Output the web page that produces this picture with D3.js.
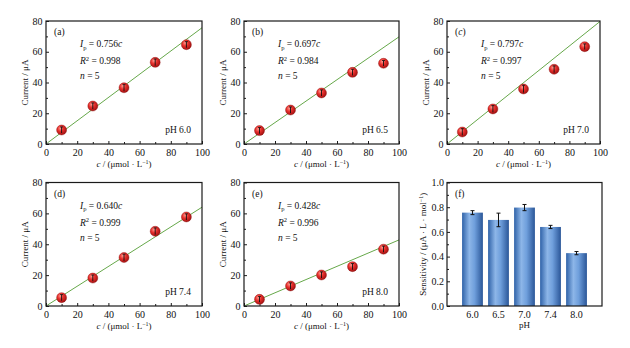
<!DOCTYPE html>
<html>
<head>
<meta charset="utf-8">
<script src="https://cdn.jsdelivr.net/npm/d3@7"></script>
<style>
  body { margin: 0; background: #fff; }
  svg text { font-family: "Liberation Serif", "DejaVu Serif", serif; fill: #111; }
</style>
</head>
<body>
<div id="chart"></div>
<script>
// concentration series (µmol/L) shared by the five calibration plots
let concentrations = [10, 30, 50, 70, 90];

let current_ph60 = [9.1, 24.7, 36.6, 53.1, 64.6];
let current_ph65 = [8.7, 22.1, 33.2, 46.6, 52.5];
let current_ph70 = [7.8, 22.8, 35.8, 48.6, 63.3];
let current_ph74 = [5.4, 18.1, 31.4, 48.4, 57.7];
let current_ph80 = [4.3, 13.0, 20.1, 25.5, 36.8];

let error_ph60 = [2.0, 2.0, 2.2, 2.2, 2.0];
let error_ph65 = [2.0, 2.0, 2.0, 2.0, 1.8];
let error_ph70 = [2.2, 2.2, 2.4, 2.2, 1.8];
let error_ph74 = [2.0, 2.0, 2.2, 2.2, 2.0];
let error_ph80 = [1.8, 2.0, 2.0, 2.0, 2.0];

let ph_labels = ["6.0", "6.5", "7.0", "7.4", "8.0"];
let slopes = [0.756, 0.697, 0.797, 0.640, 0.428];
let r_squared = ["0.998", "0.984", "0.997", "0.999", "0.996"];
let sample_n = [5, 5, 5, 5, 5];
let sensitivity_err = [0.016, 0.055, 0.025, 0.013, 0.013];

let x_ticks = [0, 20, 40, 60, 80, 100];
let y_ticks = [0, 20, 40, 60, 80];
let sens_ticks = [0, 0.2, 0.4, 0.6, 0.8, 1.0];

let width = 630;
let height = 348;

let svg = d3.select("#chart")
    .append("svg")
    .attr("width", width)
    .attr("height", height);

let defs = svg.append("defs");

let ball = defs.append("radialGradient")
    .attr("id", "ball")
    .attr("cx", "40%").attr("cy", "38%").attr("r", "65%")
    .attr("fx", "38%").attr("fy", "32%");
ball.append("stop").attr("offset", "0%").attr("stop-color", "#ff9a90");
ball.append("stop").attr("offset", "45%").attr("stop-color", "#e8302c");
ball.append("stop").attr("offset", "100%").attr("stop-color", "#9e1010");

let barGrad = defs.append("linearGradient")
    .attr("id", "bar")
    .attr("x1", "0%").attr("x2", "100%").attr("y1", "0%").attr("y2", "0%");
barGrad.append("stop").attr("offset", "0%").attr("stop-color", "#2f62a8");
barGrad.append("stop").attr("offset", "35%").attr("stop-color", "#8db6e8");
barGrad.append("stop").attr("offset", "60%").attr("stop-color", "#6f9fdc");
barGrad.append("stop").attr("offset", "100%").attr("stop-color", "#2a5698");

let panels = [
    { tag: "a", values: current_ph60, errors: error_ph60, x0: 46, x1: 202, y0: 21, y1: 144 },
    { tag: "b", values: current_ph65, errors: error_ph65, x0: 244, x1: 399, y0: 21, y1: 144 },
    { tag: "c", values: current_ph70, errors: error_ph70, x0: 447, x1: 600, y0: 21, y1: 144 },
    { tag: "d", values: current_ph74, errors: error_ph74, x0: 46, x1: 202, y0: 182.5, y1: 306 },
    { tag: "e", values: current_ph80, errors: error_ph80, x0: 244, x1: 399, y0: 182.5, y1: 306 }
];

function frame(g, p) {
    g.append("rect")
        .attr("x", p.x0)
        .attr("y", p.y0)
        .attr("width", p.x1 - p.x0)
        .attr("height", p.y1 - p.y0)
        .attr("fill", "none")
        .attr("stroke", "#1a1a1a")
        .attr("stroke-width", 1.2);
}

function style_axis(a) {
    a.select(".domain").remove();
    a.selectAll("line").attr("stroke", "#1a1a1a");
    a.selectAll("text")
        .style("font-size", "10px")
        .style("font-family", "Liberation Serif, serif")
        .attr("fill", "#111");
}

function draw_calibration(p, i) {
    let g = svg.append("g");

    let xScale = d3.scaleLinear().domain([0, 100]).range([p.x0, p.x1]);
    let yScale = d3.scaleLinear().domain([0, 80]).range([p.y1, p.y0]);

    // minor ticks every 10
    let xMinor = g.append("g")
        .attr("transform", "translate(0," + p.y1 + ")")
        .call(d3.axisBottom(xScale).tickValues([10, 30, 50, 70, 90]).tickSize(-2).tickFormat(""));
    style_axis(xMinor);
    let yMinor = g.append("g")
        .attr("transform", "translate(" + p.x0 + ",0)")
        .call(d3.axisLeft(yScale).tickValues([10, 30, 50, 70]).tickSize(-2).tickFormat(""));
    style_axis(yMinor);

    let xAxis = g.append("g")
        .attr("transform", "translate(0," + p.y1 + ")")
        .call(d3.axisBottom(xScale).tickValues(x_ticks).tickSizeInner(-3).tickSizeOuter(0).tickPadding(4.5));
    style_axis(xAxis);

    let yAxis = g.append("g")
        .attr("transform", "translate(" + p.x0 + ",0)")
        .call(d3.axisLeft(yScale).tickValues(y_ticks).tickSizeInner(-3).tickSizeOuter(0).tickPadding(3.5));
    style_axis(yAxis);

    // least squares line through origin
    let fit = d3.line()
        .x(function(d) { return xScale(d); })
        .y(function(d) { return yScale(slopes[i] * d); });

    g.append("path")
        .attr("d", fit([0.8, 100]))
        .attr("fill", "none")
        .attr("stroke", "#66a84a")
        .attr("stroke-width", 1);

    let pts = g.selectAll(".pt")
        .data(concentrations.map(function(c, k) { return [c, p.values[k], p.errors[k]]; }))
        .enter()
        .append("g");

    pts.append("circle")
        .attr("cx", function(d) { return xScale(d[0]); })
        .attr("cy", function(d) { return yScale(d[1]); })
        .attr("r", 5)
        .attr("fill", "url(#ball)")
        .attr("stroke", "#8a1010")
        .attr("stroke-width", 0.4);

    pts.append("line")
        .attr("x1", function(d) { return xScale(d[0]); })
        .attr("x2", function(d) { return xScale(d[0]); })
        .attr("y1", function(d) { return yScale(d[1] - d[2]); })
        .attr("y2", function(d) { return yScale(d[1] + d[2]); })
        .attr("stroke", "#111")
        .attr("stroke-width", 0.9);

    pts.append("line")
        .attr("x1", function(d) { return xScale(d[0]) - 1.5; })
        .attr("x2", function(d) { return xScale(d[0]) + 1.5; })
        .attr("y1", function(d) { return yScale(d[1] + d[2]); })
        .attr("y2", function(d) { return yScale(d[1] + d[2]); })
        .attr("stroke", "#111")
        .attr("stroke-width", 0.8);

    frame(g, p);

    // panel tag
    let tag = g.append("text")
        .attr("x", p.x0 + 8)
        .attr("y", p.y0 + 14)
        .style("font-size", "9.5px");
    tag.append("tspan").text("(");
    tag.append("tspan").style("font-style", p.tag === "c" ? "italic" : "normal").text(p.tag);
    tag.append("tspan").text(")");

    // fit annotation
    let ax = p.x0 + 34;
    let t1 = g.append("text").attr("x", ax).attr("y", p.y0 + 26).style("font-size", "9.5px");
    t1.append("tspan").style("font-style", "italic").text("I");
    t1.append("tspan").attr("dy", 2.5).style("font-size", "6.5px").text("p");
    t1.append("tspan").attr("dy", -2.5).text(" = " + slopes[i].toFixed(3));
    t1.append("tspan").style("font-style", "italic").text("c");

    let t2 = g.append("text").attr("x", ax).attr("y", p.y0 + 43).style("font-size", "9.5px");
    t2.append("tspan").style("font-style", "italic").text("R");
    t2.append("tspan").attr("dy", -3.5).style("font-size", "6.5px").text("2");
    t2.append("tspan").attr("dy", 3.5).text(" = " + r_squared[i]);

    let t3 = g.append("text").attr("x", ax).attr("y", p.y0 + 58).style("font-size", "9.5px");
    t3.append("tspan").style("font-style", "italic").text("n");
    t3.append("tspan").text(" = " + sample_n[i]);

    g.append("text")
        .attr("x", p.x1 - 11)
        .attr("y", p.y1 - 11)
        .attr("text-anchor", "end")
        .style("font-size", "9.5px")
        .text("pH " + ph_labels[i]);

    // axis titles
    let xt = g.append("text")
        .attr("x", (p.x0 + p.x1) / 2)
        .attr("y", p.y1 + 23)
        .attr("text-anchor", "middle")
        .style("font-size", "9px");
    xt.append("tspan").style("font-style", "italic").text("c");
    xt.append("tspan").text(" / (\u03bcmol \u00b7 L");
    xt.append("tspan").attr("dy", -3.5).style("font-size", "6px").text("\u22121");
    xt.append("tspan").attr("dy", 3.5).text(")");

    g.append("text")
        .attr("transform", "translate(" + (p.x0 - 21) + "," + ((p.y0 + p.y1) / 2) + ") rotate(-90)")
        .attr("text-anchor", "middle")
        .attr("dy", "0.35em")
        .style("font-size", "9px")
        .text("Current / \u03bcA");
}

panels.forEach(draw_calibration);

// sensitivity bars
let fp = { x0: 447, x1: 602, y0: 182.5, y1: 306 };
let fg = svg.append("g");

let bandScale = d3.scaleBand()
    .domain(ph_labels)
    .range([fp.x0, fp.x1])
    .paddingInner(0.2)
    .paddingOuter(0.58);

let sensScale = d3.scaleLinear().domain([0, 1]).range([fp.y1, fp.y0]);

fg.selectAll(".bar")
    .data(ph_labels.map(function(ph, k) { return [ph, slopes[k], sensitivity_err[k]]; }))
    .enter()
    .append("rect")
    .attr("x", function(d) { return bandScale(d[0]); })
    .attr("y", function(d) { return sensScale(d[1]); })
    .attr("width", bandScale.bandwidth())
    .attr("height", function(d) { return fp.y1 - sensScale(d[1]); })
    .attr("fill", "url(#bar)");

let errG = fg.selectAll(".err")
    .data(ph_labels.map(function(ph, k) { return [ph, slopes[k], sensitivity_err[k]]; }))
    .enter()
    .append("g");

errG.append("line")
    .attr("x1", function(d) { return bandScale(d[0]) + bandScale.bandwidth() / 2; })
    .attr("x2", function(d) { return bandScale(d[0]) + bandScale.bandwidth() / 2; })
    .attr("y1", function(d) { return sensScale(d[1] - d[2]); })
    .attr("y2", function(d) { return sensScale(d[1] + d[2]); })
    .attr("stroke", "#111")
    .attr("stroke-width", 1);

[1, -1].forEach(function(sgn) {
    errG.append("line")
        .attr("x1", function(d) { return bandScale(d[0]) + bandScale.bandwidth() / 2 - 2; })
        .attr("x2", function(d) { return bandScale(d[0]) + bandScale.bandwidth() / 2 + 2; })
        .attr("y1", function(d) { return sensScale(d[1] + sgn * d[2]); })
        .attr("y2", function(d) { return sensScale(d[1] + sgn * d[2]); })
        .attr("stroke", "#111")
        .attr("stroke-width", 1);
});

let fxAxis = fg.append("g")
    .attr("transform", "translate(0," + fp.y1 + ")")
    .call(d3.axisBottom(bandScale).tickSize(0).tickPadding(4.5));
style_axis(fxAxis);

let fyMinor = fg.append("g")
    .attr("transform", "translate(" + fp.x0 + ",0)")
    .call(d3.axisLeft(sensScale).tickValues([0.1, 0.3, 0.5, 0.7, 0.9]).tickSize(-2).tickFormat(""));
style_axis(fyMinor);

let fyAxis = fg.append("g")
    .attr("transform", "translate(" + fp.x0 + ",0)")
    .call(d3.axisLeft(sensScale).tickValues(sens_ticks).tickSizeInner(-3).tickSizeOuter(0)
        .tickPadding(3).tickFormat(d3.format(".1f")));
style_axis(fyAxis);

frame(fg, fp);

fg.append("text")
    .attr("x", fp.x0 + 8)
    .attr("y", fp.y0 + 14)
    .style("font-size", "9.5px")
    .text("(f)");

fg.append("text")
    .attr("x", (fp.x0 + fp.x1) / 2)
    .attr("y", fp.y1 + 22)
    .attr("text-anchor", "middle")
    .style("font-size", "9px")
    .text("pH");

let fyt = fg.append("text")
    .attr("transform", "translate(" + (fp.x0 - 24) + "," + ((fp.y0 + fp.y1) / 2) + ") rotate(-90)")
    .attr("text-anchor", "middle")
    .attr("dy", "0.35em")
    .style("font-size", "9px");
fyt.append("tspan").text("Sensitivity / (\u03bcA \u00b7 L \u00b7 mol");
fyt.append("tspan").attr("dy", -3.5).style("font-size", "6px").text("\u22121");
fyt.append("tspan").attr("dy", 3.5).text(")");
</script>
</body>
</html>
